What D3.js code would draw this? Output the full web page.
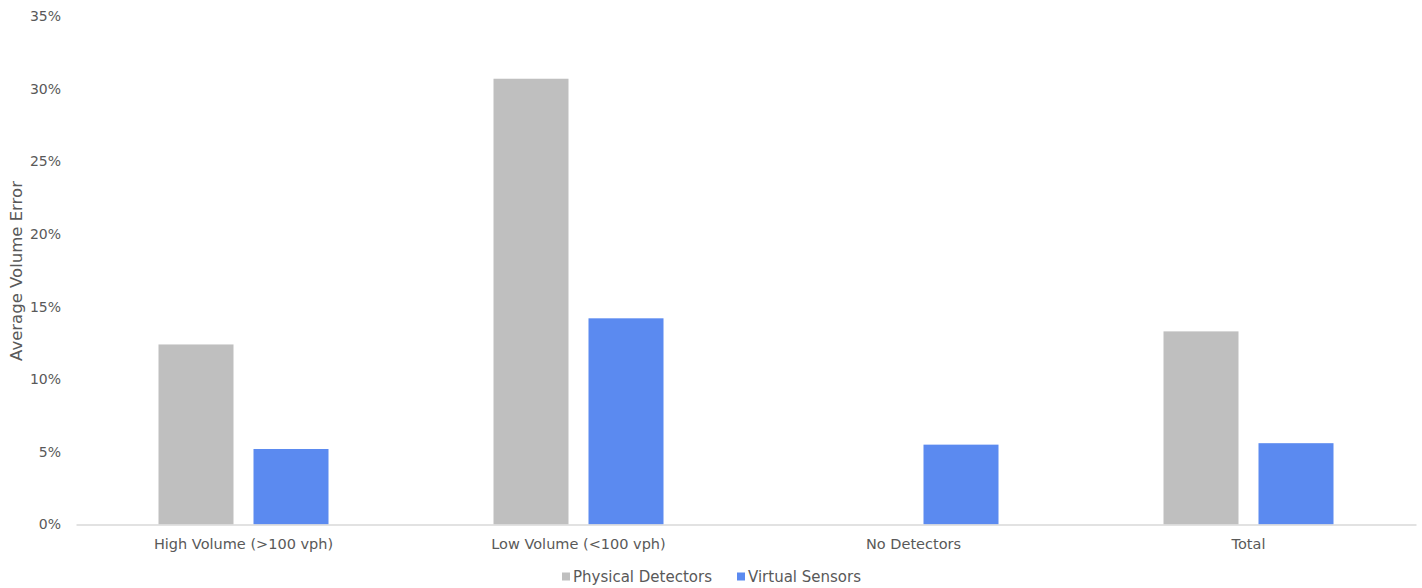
<!DOCTYPE html>
<html>
<head>
<meta charset="utf-8">
<script src="https://cdn.jsdelivr.net/npm/d3@7/dist/d3.min.js"></script>
<style>
  html, body { margin: 0; padding: 0; background: #fff; }
  svg { display: block; font-family: "DejaVu Sans", sans-serif; }
</style>
</head>
<body>
<svg id="chart" width="1422" height="588"></svg>
<script>
// Categories and series (fractions of volume)
const categories = ["High Volume (>100 vph)", "Low Volume (<100 vph)", "No Detectors", "Total"];
const seriesNames = ["Physical Detectors", "Virtual Sensors"];
const physicalDetectors = [0.124, 0.307, null, 0.133];
const virtualSensors = [0.052, 0.142, 0.055, 0.056];
const yTicks = [0, 0.05, 0.10, 0.15, 0.20, 0.25, 0.30, 0.35];
const colors = ["#bfbfbf", "#5b8af0"];

const svg = d3.select("#chart");
const frame = { left: 76, right: 1416, top: 16.3, bottom: 524.5 };
const groupWidth = 170;

const x = d3.scaleBand().domain(categories).range([frame.left, frame.right]).padding(0);
const xs = d3.scaleBand().domain(seriesNames).range([0, groupWidth]).paddingInner(20 / 95).paddingOuter(0);
const y = d3.scaleLinear().domain([0, 0.35]).range([frame.bottom, frame.top]);

const series = [physicalDetectors, virtualSensors];

// Bars
const g = svg.append("g");
series.forEach((vals, si) => {
  g.selectAll(null)
    .data(categories.map((c, i) => ({ c, v: vals[i] })).filter(d => d.v != null))
    .enter().append("rect")
    .attr("x", d => x(d.c) + (x.bandwidth() - groupWidth) / 2 + xs(seriesNames[si]))
    .attr("width", xs.bandwidth())
    .attr("y", d => y(d.v))
    .attr("height", d => y(0) - y(d.v))
    .attr("fill", colors[si]);
});

// Y axis labels
const yAxis = d3.axisLeft(y).tickValues(yTicks).tickFormat(d3.format(".0%")).tickSize(0).tickPadding(0);
const yg = svg.append("g").attr("transform", "translate(61,0)").call(yAxis);
yg.select(".domain").remove();
yg.selectAll("text").attr("fill", "#595959").style("font-size", "14px").style("font-family", "DejaVu Sans, sans-serif");

// X axis
const xAxis = d3.axisBottom(x).tickSize(0).tickPadding(14);
const xg = svg.append("g").attr("transform", `translate(0,${y(0)})`).call(xAxis);
xg.select(".domain").attr("stroke", "#d9d9d9").attr("stroke-width", 1.5);
xg.selectAll("text").attr("fill", "#595959").style("font-size", "14.5px").style("font-family", "DejaVu Sans, sans-serif");

// Axis title
svg.append("text")
  .attr("transform", `translate(22,271) rotate(-90)`)
  .attr("text-anchor", "middle")
  .attr("fill", "#595959")
  .style("font-size", "16.5px")
  .text("Average Volume Error");

// Legend
const legend = svg.append("g").attr("transform", "translate(562,577)");
const legendX = [0, 175];
seriesNames.forEach((name, i) => {
  const lg = legend.append("g").attr("transform", `translate(${legendX[i]},0)`);
  lg.append("rect").attr("x", 0).attr("y", -4.5).attr("width", 8).attr("height", 8).attr("fill", colors[i]);
  lg.append("text").attr("x", 11).attr("y", 0).attr("dy", "0.35em")
    .attr("fill", "#595959").style("font-size", "15px").text(name);
});
</script>
</body>
</html>
